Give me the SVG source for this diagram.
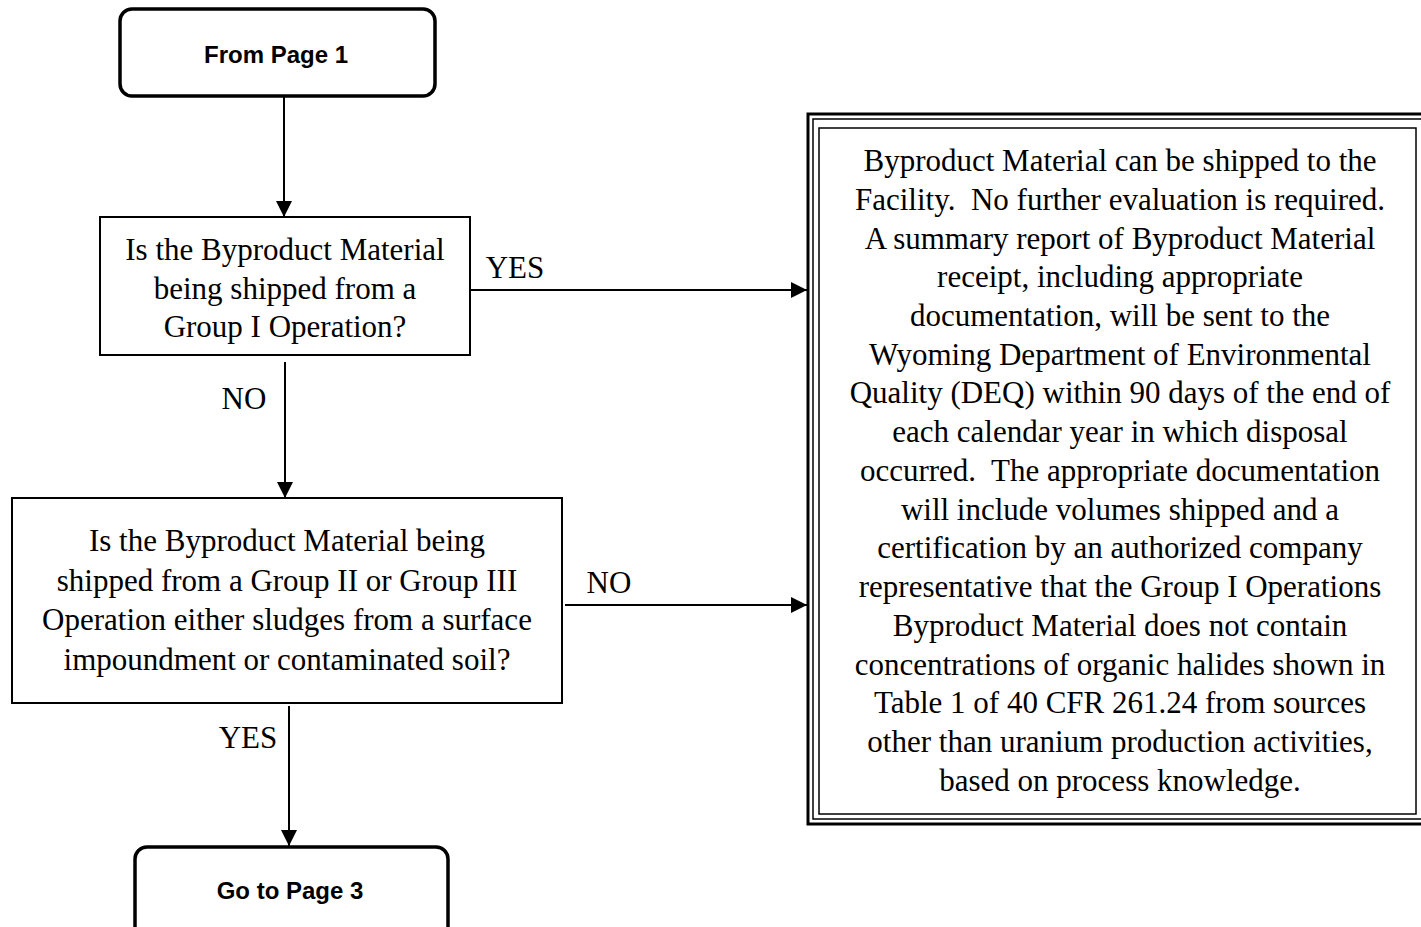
<svg xmlns="http://www.w3.org/2000/svg" width="1421" height="927" viewBox="0 0 1421 927">
<style>
.serif{font-family:"Liberation Serif","Times New Roman",serif;font-size:31px;fill:#000;text-anchor:middle;white-space:pre}
.sans{font-family:"Liberation Sans",Arial,sans-serif;font-size:24px;font-weight:bold;fill:#000;text-anchor:middle}
.box{fill:#fff;stroke:#000;stroke-width:2}
.term{fill:#fff;stroke:#000;stroke-width:3.5}
.conn{stroke:#000;stroke-width:2;fill:none}
</style>
<defs>
<marker id="ah" viewBox="0 0 10 10" refX="10" refY="5" markerWidth="16" markerHeight="16" markerUnits="userSpaceOnUse" orient="auto">
<path d="M0,0 L10,5 L0,10 z" fill="#000"/>
</marker>
</defs>
<rect width="1421" height="927" fill="#fff"/>
<g id="connectors">
<line class="conn" x1="284" y1="97" x2="284" y2="217" marker-end="url(#ah)"/>
<line class="conn" x1="285" y1="362" x2="285" y2="498" marker-end="url(#ah)"/>
<line class="conn" x1="289" y1="706" x2="289" y2="846" marker-end="url(#ah)"/>
<line class="conn" x1="470" y1="290" x2="807" y2="290" marker-end="url(#ah)"/>
<line class="conn" x1="565" y1="605" x2="807" y2="605" marker-end="url(#ah)"/>
<text class="serif" x="515" y="278">YES</text>
<text class="serif" x="244" y="409">NO</text>
<text class="serif" x="609" y="593">NO</text>
<text class="serif" x="248" y="748">YES</text>
</g>
<g id="start">
<rect class="term" x="120" y="9" width="315" height="87" rx="12"/>
<text class="sans" x="276" y="63">From Page 1</text>
</g>
<g id="q1">
<rect class="box" x="100" y="217" width="370" height="138"/>
<text class="serif" x="285" y="260">Is the Byproduct Material</text>
<text class="serif" x="285" y="299">being shipped from a</text>
<text class="serif" x="285" y="337">Group I Operation?</text>
</g>
<g id="q2">
<rect class="box" x="12" y="498" width="550" height="205"/>
<text class="serif" x="287" y="551">Is the Byproduct Material being</text>
<text class="serif" x="287" y="591">shipped from a Group II or Group III</text>
<text class="serif" x="287" y="630">Operation either sludges from a surface</text>
<text class="serif" x="287" y="670">impoundment or contaminated soil?</text>
</g>
<g id="end">
<rect class="term" x="135" y="847" width="313" height="100" rx="12"/>
<text class="sans" x="290" y="899">Go to Page 3</text>
</g>
<g id="result">
<rect x="808" y="114" width="640" height="710" fill="#fff" stroke="#000" stroke-width="3"/>
<rect x="813" y="119" width="630" height="700" fill="none" stroke="#000" stroke-width="1.5"/>
<rect x="819" y="128" width="597" height="686" fill="none" stroke="#000" stroke-width="1.5"/>
<text class="serif" x="1120" y="171">Byproduct Material can be shipped to the</text>
<text class="serif" x="1120" y="210" xml:space="preserve">Facility.  No further evaluation is required.</text>
<text class="serif" x="1120" y="249">A summary report of Byproduct Material</text>
<text class="serif" x="1120" y="287">receipt, including appropriate</text>
<text class="serif" x="1120" y="326">documentation, will be sent to the</text>
<text class="serif" x="1120" y="365">Wyoming Department of Environmental</text>
<text class="serif" x="1120" y="403">Quality (DEQ) within 90 days of the end of</text>
<text class="serif" x="1120" y="442">each calendar year in which disposal</text>
<text class="serif" x="1120" y="481" xml:space="preserve">occurred.  The appropriate documentation</text>
<text class="serif" x="1120" y="520">will include volumes shipped and a</text>
<text class="serif" x="1120" y="558">certification by an authorized company</text>
<text class="serif" x="1120" y="597">representative that the Group I Operations</text>
<text class="serif" x="1120" y="636">Byproduct Material does not contain</text>
<text class="serif" x="1120" y="675">concentrations of organic halides shown in</text>
<text class="serif" x="1120" y="713">Table 1 of 40 CFR 261.24 from sources</text>
<text class="serif" x="1120" y="752">other than uranium production activities,</text>
<text class="serif" x="1120" y="791">based on process knowledge.</text>
</g>
</svg>
